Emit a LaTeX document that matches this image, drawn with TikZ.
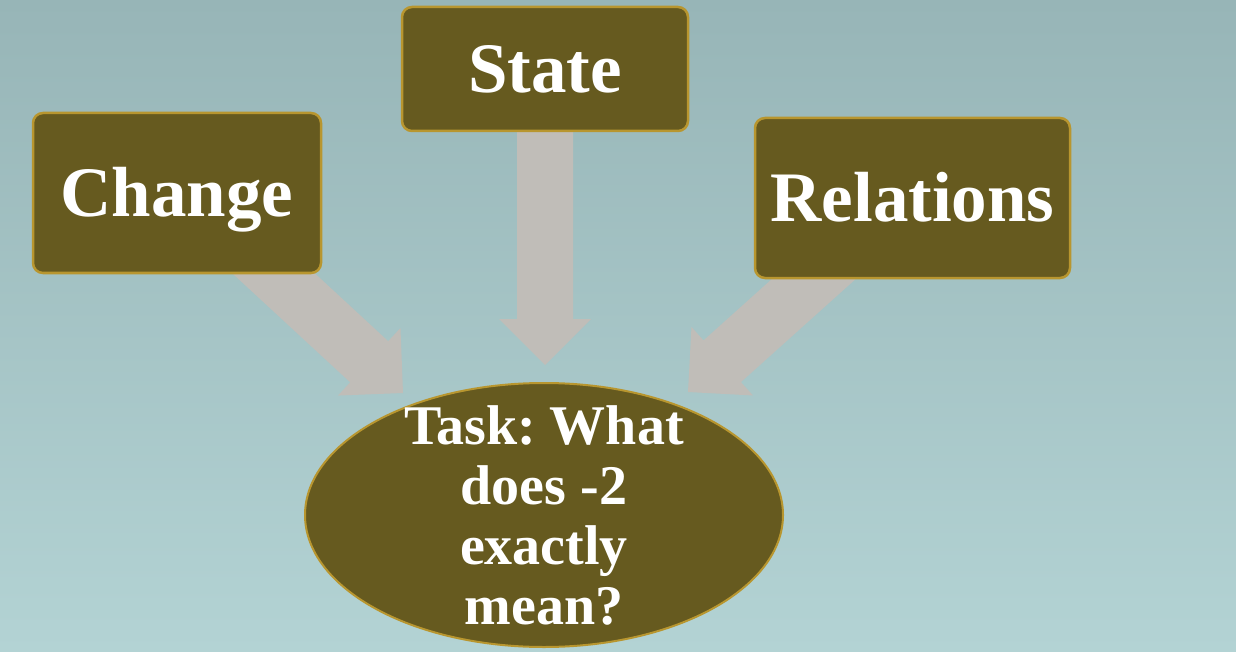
\documentclass[tikz,border=0pt]{standalone}
\usepackage{fontspec}
\setmainfont{Liberation Serif}
\usetikzlibrary{calc,shapes.geometric}
\frenchspacing

\definecolor{bgtop}{HTML}{97B5B7}
\definecolor{bgbottom}{HTML}{B3D3D4}
\definecolor{olive}{HTML}{665A1F}
\definecolor{goldrim}{HTML}{B8962F}
\definecolor{arrowgray}{HTML}{C0BDB8}

% Broad block arrow from #1 to its tip #2
\newcommand\blockarrow[2]{%
  \path ($(#2)!46pt!(#1)$) coordinate (hb);
  \fill[arrowgray]
    ($(#1)!28pt!90:(#2)$) -- ($(hb)!28pt!90:(#2)$) -- ($(hb)!46pt!90:(#2)$)
    -- (#2)
    -- ($(hb)!46pt!-90:(#2)$) -- ($(hb)!28pt!-90:(#2)$) -- ($(#1)!28pt!-90:(#2)$)
    -- cycle;}

\begin{document}
\begin{tikzpicture}[x=1pt,y=-1pt,
  topic/.style={draw=goldrim, line width=2.5pt, fill=olive, rounded corners=10pt,
    minimum height=160pt, inner sep=0pt, text=white,
    font=\bfseries\fontsize{71}{74}\selectfont, text height=47pt, text depth=0pt},
  taskshape/.style={ellipse, draw=goldrim, line width=2pt, fill=olive,
    minimum width=478pt, minimum height=264pt, inner sep=0pt},
  tasktext/.style={text=white, align=center, inner sep=0pt,
    font=\bfseries\fontsize{56}{60}\selectfont}]

  % background
  \shade[top color=bgtop, bottom color=bgbottom] (0,0) rectangle (1236,652);
  \useasboundingbox (0,0) rectangle (1236,652);

  % arrow end points
  \coordinate (cs) at (244,246);
  \coordinate (ct) at (403,393);
  \coordinate (ss) at (545,100);
  \coordinate (st) at (545,365);
  \coordinate (rs) at (845,251);
  \coordinate (rt) at (688,392);

  \blockarrow{cs}{ct}
  \blockarrow{ss}{st}
  \blockarrow{rs}{rt}

  % topic boxes
  \node[topic, minimum width=288pt] (change) at (177,193) {Change};
  \node[topic, minimum width=286pt, minimum height=124pt] (state) at (545,69) {State};
  \node[topic, minimum width=315pt] (relations) at (912.5,198) {Relations};

  % central task
  \node[taskshape] (task) at (544,515) {};
  \node[tasktext, anchor=north] (tasklabel) at (544,405) {Task: What\\does -2\\exactly\\mean?};
\end{tikzpicture}
\end{document}
